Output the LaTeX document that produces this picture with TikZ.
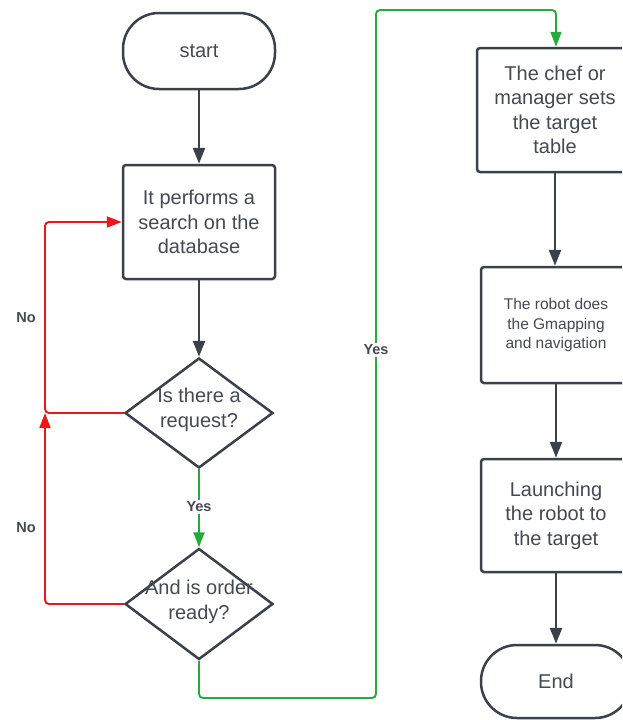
\documentclass[tikz,border=0pt]{standalone}
\usepackage{fontspec}
\setmainfont{Liberation Sans}
\usetikzlibrary{shapes.geometric,arrows.meta}
\definecolor{ink}{HTML}{3B404A}
\definecolor{txt}{HTML}{454952}
\definecolor{nored}{HTML}{E8171C}
\definecolor{yesgreen}{HTML}{27AA3C}
\tikzset{
  base/.style={draw=ink, line width=2.5pt, fill=white, text=txt, align=center, inner sep=0pt},
  term/.style={base, rectangle, rounded corners=36pt},
  procbox/.style={base, rectangle, rounded corners=3pt},
  big/.style={font=\fontsize{20}{24.5}\selectfont},
  small/.style={font=\fontsize{15.5}{19.5}\selectfont},
  lbl/.style={font=\bfseries\fontsize{14.5}{17}\selectfont, text=txt, fill=white, inner sep=2pt},
  flow/.style={draw=ink, line width=2.5pt, -{Triangle[length=16pt,width=12pt]}},
  noflow/.style={draw=nored, line width=1.9pt, rounded corners=4pt, -{Triangle[length=15pt,width=11pt]}},
  yesflow/.style={draw=yesgreen, line width=1.9pt, rounded corners=4pt, -{Triangle[length=15pt,width=11pt]}},
}
\begin{document}
\begin{tikzpicture}[x=1pt,y=-1pt]
\useasboundingbox (0,0) rectangle (622,720);
\clip (0,0) rectangle (622,720);
\node[term, big, minimum width=152pt, minimum height=76pt] (start) at (199,51) {start};
\node[procbox, big, minimum width=152pt, minimum height=114pt] (search) at (199,222) {It performs a\\search on the\\database};
\node[base, diamond, minimum width=148pt, minimum height=110pt] (d1) at (199,413) {};
\node[big, text=txt, align=center] (d1t) at (199,410) {Is there a\\request?};
\node[base, diamond, minimum width=148pt, minimum height=111pt] (d2) at (199,604) {};
\node[big, text=txt, align=center] (d2t) at (199,602) {And is order\\ready?};
\node[procbox, big, minimum width=156pt, minimum height=124pt] (chef) at (555,110) {The chef or\\manager sets\\the target\\table};
\node[procbox, small, minimum width=150pt, minimum height=116pt] (robot) at (556,325) {The robot does\\the Gmapping\\and navigation};
\node[procbox, big, minimum width=150pt, minimum height=113pt] (launch) at (556,515.5) {Launching\\the robot to\\the target};
\node[term, big, minimum width=150pt, minimum height=73pt] (end) at (556,681.5) {End};
\coordinate (nj) at (45,413);
\coordinate (g1) at (199,698);
\coordinate (g2) at (376,698);
\coordinate (g3) at (376,10);
\coordinate (g4) at (556,10);
\draw[flow] (start) -- (search);
\draw[flow] (search) -- (d1);
\draw[noflow] (d1.west) -| (45,222) -- (search.west);
\draw[noflow] (d2.west) -| (nj);
\draw[yesflow] (d1.south) -- (d2.north);
\draw[yesflow] (d2.south) -- (g1) -- (g2) -- (g3) -- (g4) -- (chef.north -| g4);
\draw[flow] (chef.south) -- (robot.north -| chef.south);
\draw[flow] (robot) -- (launch);
\draw[flow] (launch) -- (end);
\node[lbl] (yes1) at (199,507) {Yes};
\node[lbl] (yes2) at (376,350) {Yes};
\node[lbl] (no1) at (26,318) {No};
\node[lbl] (no2) at (26,528) {No};
\end{tikzpicture}
\end{document}
